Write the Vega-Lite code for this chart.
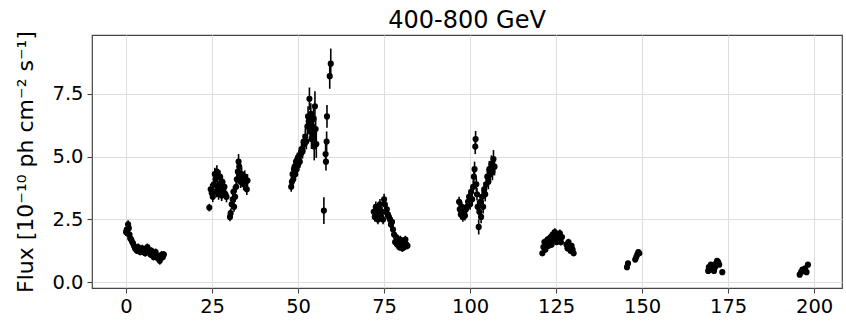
{
  "$schema": "https://vega.github.io/schema/vega-lite/v6.json",
  "width": 750,
  "height": 253,
  "autosize": {"type": "none"},
  "padding": {"left": 92, "top": 35, "right": 4, "bottom": 42},
  "background": "white",
  "title": {
    "text": "400-800 GeV",
    "font": "DejaVu Sans",
    "fontSize": 24,
    "fontWeight": "normal",
    "color": "black",
    "offset": -2,
    "anchor": "middle"
  },
  "data": {
    "values": [
      {"t": 0.0, "flux": 2.0, "err": 0.15}, {"t": 0.2, "flux": 2.1, "err": 0.16}, {"t": 0.4, "flux": 1.95, "err": 0.15},
      {"t": 0.6, "flux": 2.3, "err": 0.17}, {"t": 0.8, "flux": 2.15, "err": 0.16}, {"t": 1.0, "flux": 1.9, "err": 0.15},
      {"t": 1.2, "flux": 1.75, "err": 0.15}, {"t": 1.5, "flux": 1.7, "err": 0.14}, {"t": 1.8, "flux": 1.6, "err": 0.14},
      {"t": 2.0, "flux": 1.55, "err": 0.14}, {"t": 2.3, "flux": 1.45, "err": 0.13}, {"t": 2.6, "flux": 1.35, "err": 0.13},
      {"t": 2.9, "flux": 1.3, "err": 0.13}, {"t": 3.2, "flux": 1.25, "err": 0.13}, {"t": 3.5, "flux": 1.4, "err": 0.14},
      {"t": 3.8, "flux": 1.3, "err": 0.13}, {"t": 4.1, "flux": 1.2, "err": 0.13}, {"t": 4.4, "flux": 1.25, "err": 0.13},
      {"t": 4.7, "flux": 1.35, "err": 0.14}, {"t": 5.0, "flux": 1.2, "err": 0.13}, {"t": 5.3, "flux": 1.3, "err": 0.14},
      {"t": 5.6, "flux": 1.15, "err": 0.13}, {"t": 5.9, "flux": 1.25, "err": 0.13}, {"t": 6.2, "flux": 1.4, "err": 0.14},
      {"t": 6.5, "flux": 1.3, "err": 0.14}, {"t": 6.8, "flux": 1.2, "err": 0.13}, {"t": 7.1, "flux": 1.1, "err": 0.13},
      {"t": 7.4, "flux": 1.25, "err": 0.14}, {"t": 7.7, "flux": 1.15, "err": 0.13}, {"t": 8.0, "flux": 1.0, "err": 0.13},
      {"t": 8.3, "flux": 1.1, "err": 0.13}, {"t": 8.6, "flux": 1.2, "err": 0.14}, {"t": 8.9, "flux": 1.05, "err": 0.13},
      {"t": 9.2, "flux": 0.95, "err": 0.13}, {"t": 9.5, "flux": 1.0, "err": 0.13}, {"t": 9.8, "flux": 0.85, "err": 0.15},
      {"t": 10.1, "flux": 1.05, "err": 0.14}, {"t": 10.4, "flux": 1.1, "err": 0.14}, {"t": 10.7, "flux": 1.0, "err": 0.14},
      {"t": 11.0, "flux": 1.1, "err": 0.14},

      {"t": 24.2, "flux": 2.97, "err": 0.15}, {"t": 24.6, "flux": 3.7, "err": 0.22}, {"t": 24.9, "flux": 3.55, "err": 0.22},
      {"t": 25.2, "flux": 3.4, "err": 0.21}, {"t": 25.5, "flux": 3.9, "err": 0.24}, {"t": 25.8, "flux": 4.3, "err": 0.26},
      {"t": 26.0, "flux": 4.1, "err": 0.25}, {"t": 26.2, "flux": 3.6, "err": 0.22}, {"t": 26.4, "flux": 4.4, "err": 0.26},
      {"t": 26.6, "flux": 3.8, "err": 0.23}, {"t": 26.9, "flux": 3.5, "err": 0.22}, {"t": 27.1, "flux": 3.9, "err": 0.24},
      {"t": 27.3, "flux": 4.2, "err": 0.25}, {"t": 27.6, "flux": 3.7, "err": 0.23}, {"t": 27.8, "flux": 3.45, "err": 0.22},
      {"t": 28.0, "flux": 4.0, "err": 0.24}, {"t": 28.3, "flux": 3.6, "err": 0.22}, {"t": 28.6, "flux": 3.8, "err": 0.23},
      {"t": 28.9, "flux": 3.5, "err": 0.22}, {"t": 29.2, "flux": 3.4, "err": 0.22}, {"t": 30.2, "flux": 2.6, "err": 0.17},
      {"t": 30.4, "flux": 2.75, "err": 0.18}, {"t": 30.7, "flux": 3.1, "err": 0.2}, {"t": 31.0, "flux": 3.3, "err": 0.21},
      {"t": 31.2, "flux": 3.6, "err": 0.22}, {"t": 31.4, "flux": 3.0, "err": 0.2}, {"t": 31.7, "flux": 3.4, "err": 0.21},
      {"t": 32.0, "flux": 3.8, "err": 0.23}, {"t": 32.2, "flux": 4.1, "err": 0.25}, {"t": 32.5, "flux": 4.4, "err": 0.27},
      {"t": 32.7, "flux": 4.8, "err": 0.3}, {"t": 32.9, "flux": 4.6, "err": 0.28}, {"t": 33.1, "flux": 4.2, "err": 0.26},
      {"t": 33.3, "flux": 4.0, "err": 0.25}, {"t": 33.6, "flux": 4.3, "err": 0.26}, {"t": 33.9, "flux": 4.1, "err": 0.25},
      {"t": 34.2, "flux": 3.9, "err": 0.24}, {"t": 34.5, "flux": 4.2, "err": 0.25}, {"t": 34.8, "flux": 4.0, "err": 0.25},
      {"t": 35.1, "flux": 3.7, "err": 0.23}, {"t": 35.3, "flux": 4.05, "err": 0.25},

      {"t": 48.0, "flux": 3.8, "err": 0.2}, {"t": 48.2, "flux": 4.0, "err": 0.22}, {"t": 48.4, "flux": 4.3, "err": 0.23},
      {"t": 48.6, "flux": 4.1, "err": 0.22}, {"t": 48.8, "flux": 4.5, "err": 0.24}, {"t": 49.0, "flux": 4.6, "err": 0.24},
      {"t": 49.2, "flux": 4.3, "err": 0.23}, {"t": 49.4, "flux": 4.8, "err": 0.25}, {"t": 49.6, "flux": 4.5, "err": 0.24},
      {"t": 49.8, "flux": 4.9, "err": 0.26}, {"t": 50.0, "flux": 4.7, "err": 0.25}, {"t": 50.2, "flux": 5.0, "err": 0.26},
      {"t": 50.5, "flux": 4.8, "err": 0.25}, {"t": 50.8, "flux": 5.1, "err": 0.27}, {"t": 51.0, "flux": 5.3, "err": 0.28},
      {"t": 51.3, "flux": 5.2, "err": 0.28}, {"t": 51.6, "flux": 5.6, "err": 0.3}, {"t": 51.9, "flux": 5.5, "err": 0.3},
      {"t": 52.1, "flux": 5.8, "err": 0.32}, {"t": 52.4, "flux": 5.6, "err": 0.31}, {"t": 52.7, "flux": 6.2, "err": 0.35},
      {"t": 52.9, "flux": 6.6, "err": 0.4}, {"t": 53.1, "flux": 6.4, "err": 0.38}, {"t": 53.3, "flux": 7.3, "err": 0.45},
      {"t": 53.5, "flux": 6.0, "err": 0.38}, {"t": 53.7, "flux": 6.7, "err": 0.42}, {"t": 53.9, "flux": 5.7, "err": 0.4},
      {"t": 54.1, "flux": 6.2, "err": 0.42}, {"t": 54.3, "flux": 5.9, "err": 0.45}, {"t": 54.5, "flux": 6.5, "err": 0.5},
      {"t": 54.7, "flux": 5.4, "err": 0.55}, {"t": 54.9, "flux": 7.0, "err": 0.6}, {"t": 55.1, "flux": 6.1, "err": 0.5},
      {"t": 55.3, "flux": 5.5, "err": 0.55}, {"t": 57.5, "flux": 2.85, "err": 0.53}, {"t": 58.0, "flux": 5.1, "err": 0.4},
      {"t": 58.1, "flux": 4.8, "err": 0.35}, {"t": 58.3, "flux": 5.6, "err": 0.4}, {"t": 58.4, "flux": 6.6, "err": 0.45},
      {"t": 59.2, "flux": 8.2, "err": 0.5}, {"t": 59.5, "flux": 8.7, "err": 0.6},

      {"t": 72.0, "flux": 2.8, "err": 0.2}, {"t": 72.3, "flux": 2.6, "err": 0.19}, {"t": 72.6, "flux": 3.0, "err": 0.21},
      {"t": 72.9, "flux": 2.7, "err": 0.2}, {"t": 73.2, "flux": 2.5, "err": 0.19}, {"t": 73.5, "flux": 2.9, "err": 0.2},
      {"t": 73.8, "flux": 3.1, "err": 0.21}, {"t": 74.1, "flux": 2.6, "err": 0.19}, {"t": 74.4, "flux": 2.8, "err": 0.2},
      {"t": 74.7, "flux": 2.5, "err": 0.19}, {"t": 75.0, "flux": 3.3, "err": 0.22}, {"t": 75.2, "flux": 3.1, "err": 0.21},
      {"t": 75.5, "flux": 2.8, "err": 0.2}, {"t": 75.8, "flux": 2.9, "err": 0.2}, {"t": 76.1, "flux": 2.7, "err": 0.2},
      {"t": 76.4, "flux": 2.6, "err": 0.19}, {"t": 76.7, "flux": 2.5, "err": 0.19}, {"t": 77.0, "flux": 2.3, "err": 0.18},
      {"t": 77.3, "flux": 2.4, "err": 0.18}, {"t": 77.6, "flux": 2.1, "err": 0.17}, {"t": 77.9, "flux": 1.9, "err": 0.16},
      {"t": 78.2, "flux": 1.6, "err": 0.15}, {"t": 78.5, "flux": 1.8, "err": 0.16}, {"t": 78.8, "flux": 1.5, "err": 0.15},
      {"t": 79.1, "flux": 1.6, "err": 0.15}, {"t": 79.4, "flux": 1.4, "err": 0.14}, {"t": 79.7, "flux": 1.7, "err": 0.15},
      {"t": 80.0, "flux": 1.5, "err": 0.15}, {"t": 80.3, "flux": 1.35, "err": 0.14}, {"t": 80.6, "flux": 1.6, "err": 0.15},
      {"t": 80.9, "flux": 1.4, "err": 0.14}, {"t": 81.2, "flux": 1.7, "err": 0.15}, {"t": 81.5, "flux": 1.5, "err": 0.15},
      {"t": 81.8, "flux": 1.45, "err": 0.14},

      {"t": 96.8, "flux": 3.2, "err": 0.2}, {"t": 97.0, "flux": 2.9, "err": 0.2}, {"t": 97.3, "flux": 2.7, "err": 0.19},
      {"t": 97.6, "flux": 3.0, "err": 0.2}, {"t": 97.9, "flux": 2.6, "err": 0.19}, {"t": 98.2, "flux": 2.8, "err": 0.2},
      {"t": 98.5, "flux": 2.65, "err": 0.19}, {"t": 98.8, "flux": 2.9, "err": 0.2}, {"t": 99.1, "flux": 3.0, "err": 0.21},
      {"t": 99.4, "flux": 3.2, "err": 0.22}, {"t": 99.7, "flux": 3.4, "err": 0.23}, {"t": 100.0, "flux": 3.1, "err": 0.22},
      {"t": 100.3, "flux": 3.6, "err": 0.24}, {"t": 100.6, "flux": 3.3, "err": 0.23}, {"t": 100.9, "flux": 3.8, "err": 0.26},
      {"t": 101.1, "flux": 4.2, "err": 0.28}, {"t": 101.3, "flux": 4.5, "err": 0.3}, {"t": 101.5, "flux": 5.4, "err": 0.3},
      {"t": 101.6, "flux": 5.7, "err": 0.32}, {"t": 101.8, "flux": 3.9, "err": 0.27}, {"t": 102.0, "flux": 3.5, "err": 0.25},
      {"t": 102.2, "flux": 3.0, "err": 0.24}, {"t": 102.5, "flux": 2.2, "err": 0.3}, {"t": 102.7, "flux": 2.8, "err": 0.24},
      {"t": 103.0, "flux": 3.2, "err": 0.26}, {"t": 103.2, "flux": 2.6, "err": 0.25}, {"t": 103.5, "flux": 3.4, "err": 0.27},
      {"t": 103.8, "flux": 3.0, "err": 0.26}, {"t": 104.1, "flux": 3.7, "err": 0.28}, {"t": 104.4, "flux": 3.5, "err": 0.28},
      {"t": 104.7, "flux": 3.9, "err": 0.3}, {"t": 105.0, "flux": 4.2, "err": 0.31}, {"t": 105.3, "flux": 4.0, "err": 0.3},
      {"t": 105.6, "flux": 4.5, "err": 0.33}, {"t": 105.9, "flux": 4.3, "err": 0.32}, {"t": 106.2, "flux": 4.7, "err": 0.35},
      {"t": 106.5, "flux": 4.4, "err": 0.34}, {"t": 106.8, "flux": 4.9, "err": 0.36}, {"t": 107.1, "flux": 4.6, "err": 0.35},

      {"t": 121.0, "flux": 1.15, "err": 0.1}, {"t": 121.3, "flux": 1.4, "err": 0.12}, {"t": 121.6, "flux": 1.6, "err": 0.13},
      {"t": 121.9, "flux": 1.3, "err": 0.12}, {"t": 122.2, "flux": 1.5, "err": 0.13}, {"t": 122.5, "flux": 1.7, "err": 0.14},
      {"t": 122.8, "flux": 1.45, "err": 0.12}, {"t": 123.1, "flux": 1.6, "err": 0.13}, {"t": 123.4, "flux": 1.8, "err": 0.14},
      {"t": 123.7, "flux": 1.5, "err": 0.13}, {"t": 124.0, "flux": 1.9, "err": 0.15}, {"t": 124.3, "flux": 1.7, "err": 0.14},
      {"t": 124.6, "flux": 2.0, "err": 0.15}, {"t": 124.9, "flux": 1.8, "err": 0.14}, {"t": 125.2, "flux": 1.6, "err": 0.13},
      {"t": 125.5, "flux": 1.9, "err": 0.15}, {"t": 125.8, "flux": 1.75, "err": 0.14}, {"t": 126.1, "flux": 1.95, "err": 0.15},
      {"t": 126.4, "flux": 1.6, "err": 0.14}, {"t": 126.7, "flux": 1.8, "err": 0.15}, {"t": 128.0, "flux": 1.5, "err": 0.13},
      {"t": 128.3, "flux": 1.35, "err": 0.12}, {"t": 128.6, "flux": 1.6, "err": 0.13}, {"t": 128.9, "flux": 1.4, "err": 0.12},
      {"t": 129.2, "flux": 1.25, "err": 0.12}, {"t": 129.5, "flux": 1.45, "err": 0.12}, {"t": 129.8, "flux": 1.3, "err": 0.12},
      {"t": 130.1, "flux": 1.15, "err": 0.11},

      {"t": 145.6, "flux": 0.6, "err": 0.08}, {"t": 145.9, "flux": 0.75, "err": 0.09}, {"t": 148.0, "flux": 0.9, "err": 0.09},
      {"t": 148.3, "flux": 1.0, "err": 0.1}, {"t": 148.6, "flux": 1.1, "err": 0.1}, {"t": 148.9, "flux": 1.2, "err": 0.1},
      {"t": 149.2, "flux": 1.15, "err": 0.1},

      {"t": 169.2, "flux": 0.45, "err": 0.07}, {"t": 169.4, "flux": 0.6, "err": 0.08}, {"t": 169.7, "flux": 0.5, "err": 0.07},
      {"t": 170.0, "flux": 0.7, "err": 0.08}, {"t": 170.3, "flux": 0.55, "err": 0.07}, {"t": 170.6, "flux": 0.65, "err": 0.08},
      {"t": 170.9, "flux": 0.45, "err": 0.07}, {"t": 171.2, "flux": 0.6, "err": 0.08}, {"t": 171.5, "flux": 0.75, "err": 0.08},
      {"t": 171.8, "flux": 0.85, "err": 0.09}, {"t": 172.1, "flux": 0.8, "err": 0.09}, {"t": 172.4, "flux": 0.7, "err": 0.08},
      {"t": 173.3, "flux": 0.4, "err": 0.07},

      {"t": 195.8, "flux": 0.3, "err": 0.06}, {"t": 196.2, "flux": 0.4, "err": 0.07}, {"t": 196.6, "flux": 0.5, "err": 0.07},
      {"t": 197.0, "flux": 0.45, "err": 0.07}, {"t": 197.4, "flux": 0.55, "err": 0.07}, {"t": 197.8, "flux": 0.4, "err": 0.07},
      {"t": 198.2, "flux": 0.7, "err": 0.08}
    ]
  },
  "encoding": {
    "x": {
      "field": "t",
      "type": "quantitative",
      "scale": {"domain": [-9.9, 208.1], "nice": false, "zero": false},
      "axis": {
        "title": null,
        "values": [0, 25, 50, 75, 100, 125, 150, 175, 200],
        "format": "d"
      }
    }
  },
  "layer": [
    {
      "mark": {"type": "errorbar", "color": "black", "thickness": 1.6},
      "encoding": {
        "y": {
          "field": "flux",
          "type": "quantitative",
          "scale": {"domain": [-0.23, 9.84], "nice": false, "zero": false},
          "axis": {
            "title": "Flux [10⁻¹⁰ ph cm⁻² s⁻¹]",
            "values": [0, 2.5, 5, 7.5],
            "format": ".1f"
          }
        },
        "yError": {"field": "err"}
      }
    },
    {
      "mark": {"type": "point", "filled": true, "color": "black", "opacity": 1, "size": 38, "shape": "circle"},
      "encoding": {
        "y": {"field": "flux", "type": "quantitative"}
      }
    }
  ],
  "config": {
    "view": {"stroke": "#444", "strokeWidth": 1.2},
    "axis": {
      "domain": false,
      "grid": true,
      "gridColor": "#dedede",
      "gridWidth": 1,
      "tickColor": "#444",
      "tickSize": 5,
      "tickWidth": 1.1,
      "labelFont": "DejaVu Sans",
      "labelFontSize": 19.5,
      "labelColor": "black",
      "labelPadding": 4,
      "titleFont": "DejaVu Sans",
      "titleFontSize": 22,
      "titleFontWeight": "normal",
      "titleColor": "black",
      "titlePadding": 14
    }
  }
}
